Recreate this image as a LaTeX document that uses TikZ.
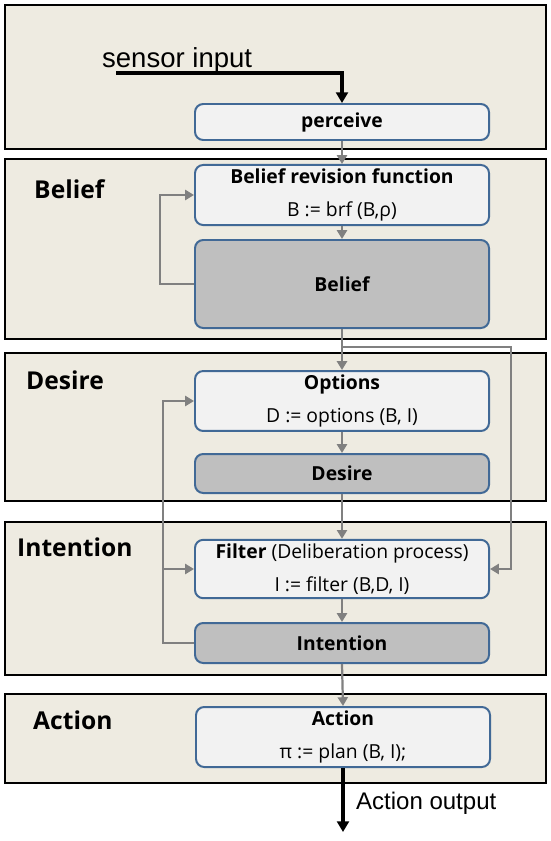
\documentclass[tikz,border=0pt]{standalone}
\usepackage{fontspec}
\setmainfont{Open Sans}
\newfontfamily\plainfont{Liberation Sans}
\usetikzlibrary{positioning, arrows.meta, fit}

\definecolor{panelbg}{RGB}{238,235,225}
\definecolor{boxline}{RGB}{65,105,150}
\definecolor{boxlight}{RGB}{242,242,242}
\definecolor{boxdark}{RGB}{191,191,191}
\definecolor{flowgray}{RGB}{128,128,128}

\begin{document}
\begin{tikzpicture}[
    x=0.03cm, y=-0.03cm,
    layer/.style={
        rectangle,
        draw=black,
        line width=2pt,
        fill=panelbg,
        inner sep=0pt
    },
    layername/.style={
        anchor=base west,
        inner sep=0pt,
        font=\fontsize{21}{25}\selectfont\bfseries
    },
    proc/.style={
        rectangle,
        rounded corners=7pt,
        draw=boxline,
        line width=1.7pt,
        fill=boxlight,
        minimum width=8.82cm,
        align=center,
        font=\fontsize{16.5}{20}\selectfont
    },
    store/.style={
        proc,
        fill=boxdark,
        font=\fontsize{16.5}{20}\selectfont\bfseries
    },
    flow/.style={
        -{Triangle[length=7.5pt, width=8.5pt]},
        draw=flowgray,
        line width=1.9pt
    },
    io/.style={
        -{Triangle[length=9pt, width=10pt]},
        draw=black,
        line width=2.8pt
    },
    iotext/.style={
        font=\plainfont\fontsize{23.5}{28}\selectfont
    }
]
    \useasboundingbox (0,0) rectangle (550,841);

    % Layers
    \node[layer, fit={(5,5) (546,149)}] (sense) {};
    \node[layer, fit={(5,159) (546,339)}] (belief) {};
    \node[layer, fit={(5,353) (546,501)}] (desire) {};
    \node[layer, fit={(5,522) (546,675)}] (intention) {};
    \node[layer, fit={(5,694) (546,783)}] (action) {};

    % Layer titles
    \node[layername] (tbel) at (34,198) {Belief};
    \node[layername] (tdes) at (26,389) {Desire};
    \node[layername] (tint) at (17,556) {Intention};
    \node[layername] (tact) at (33,729) {Action};

    % Process boxes
    \node[proc, minimum height=1.08cm, font=\fontsize{16.5}{20}\selectfont\bfseries] (perc) at (342,122) {perceive};
    \node[proc, minimum height=1.68cm] (brf) at (342,195) {\textbf{Belief revision function}\\[8pt]B := brf (B,ρ)};
    \node[store, minimum height=2.64cm] (bel) at (342,284) {Belief};

    \node[proc, minimum height=1.62cm] (opt) at (342,401) {\textbf{Options}\\[8pt]D := options (B, I)};
    \node[store, minimum height=1.17cm] (des) at (342,473.5) {Desire};

    \node[proc, minimum height=1.74cm] (flt) at (342,569) {\textbf{Filter} (Deliberation process)\\[8pt]I := filter (B,D, I)};
    \node[store, minimum height=1.2cm] (int) at (342,643) {Intention};

    \node[proc, minimum height=1.8cm] (act) at (343,737) {\textbf{Action}\\[8pt]π := plan (B, I);};

    % Sensor input
    \node[iotext, anchor=base west] (sensor) at (98,67) {sensor input};
    \coordinate (sin) at (116,73);
    \draw[io] (sin) -| (perc.north);

    % Main flow
    \draw[flow] (perc.south) -- (brf.north);
    \draw[flow] (brf.south) -- (bel.north);
    \draw[flow] (bel.south) -- (opt.north);
    \draw[flow] (opt.south) -- (des.north);
    \draw[flow] (des.south) -- (flt.north);
    \draw[flow] (flt.south) -- (int.north);
    \draw[flow] (int.south) -- (act.north);

    % Belief feedback
    \draw[flow] (bel.west) -- ++(-34,0) |- (brf.west);

    % Belief to filter
    \coordinate (split) at (343,347);
    \coordinate (rbend) at (511,347);
    \draw[flow] (split) -- (rbend) |- (flt.east);

    % Intention feedback
    \coordinate (lbend) at (163,643);
    \draw[flow] (int.west) -- (lbend) |- (opt.west);
    \draw[flow] (lbend |- flt.west) -- (flt.west);

    % Output
    \coordinate (out) at (343,832);
    \draw[io] (act.south) -- (out);
    \node[iotext, anchor=west, font=\plainfont\fontsize{20.5}{24}\selectfont] (outtext) at (352,803) {Action output};

\end{tikzpicture}
\end{document}
